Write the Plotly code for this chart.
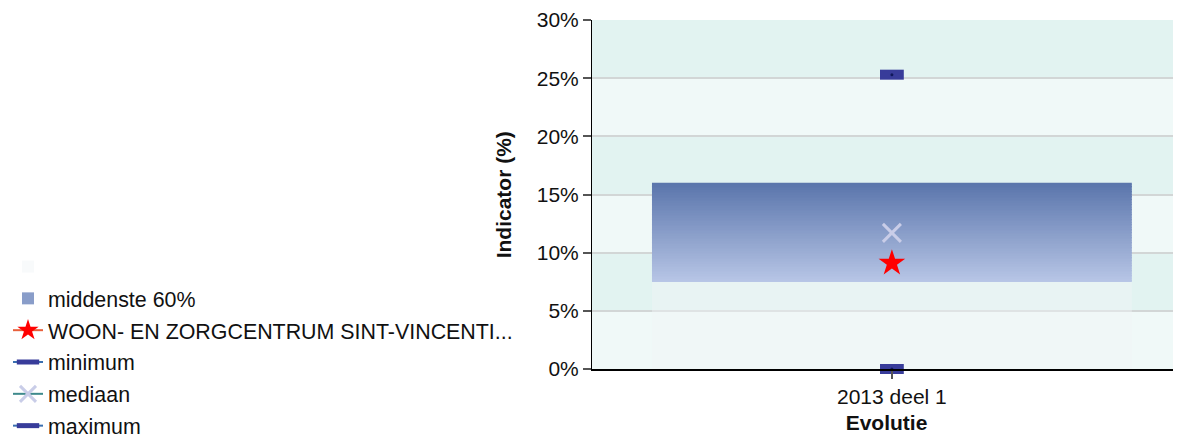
import plotly.graph_objects as go

categories = ["2013 deel 1"]
band_low = [7.5]
band_high = [16.0]
facility = [9.1]
minimum = [0.0]
median = [11.7]
maximum = [25.3]
facility_name = "WOON- EN ZORGCENTRUM SINT-VINCENTI..."
y_ticks = [0, 5, 10, 15, 20, 25, 30]
y_ticktext = ["0%", "5%", "10%", "15%", "20%", "25%", "30%"]
y_title = "Indicator (%)"
x_title = "Evolutie"

FONT = "Liberation Sans, Arial, sans-serif"
top_rgb = (90, 117, 172)
bot_rgb = (184, 198, 230)

fig = go.Figure()

# near-transparent base of the stacked bar
fig.add_trace(go.Bar(x=categories, y=band_low, name=" ", width=0.8,
                     marker=dict(color="rgba(240,244,246,0.45)", line=dict(width=0)),
                     legendgroup="g0", hoverinfo="skip"))

# gradient band drawn as stacked slices
N = 60
for i in range(N):
    t = (i + 0.5) / N
    c = tuple(round(bot_rgb[k] + (top_rgb[k] - bot_rgb[k]) * t) for k in range(3))
    h = [(band_high[j] - band_low[j]) / N for j in range(len(categories))]
    b = [band_low[j] + i * h[j] for j in range(len(categories))]
    hh = [v * 1.03 if i < N - 1 else v for v in h]
    fig.add_trace(go.Bar(x=categories, y=hh, base=b, width=0.8,
                         marker=dict(color="rgb(%d,%d,%d)" % c, line=dict(width=0)),
                         showlegend=False, hoverinfo="skip"))
# legend entry for band
fig.add_trace(go.Bar(x=categories, y=[None], name="middenste 60%", width=0.8,
                     marker=dict(color="rgb(137,157,201)", line=dict(width=0)),
                     legendgroup="g1"))

fig.add_trace(go.Scatter(x=categories, y=facility, name=facility_name, mode="lines+markers",
                         line=dict(color="#e8603c", width=2),
                         marker=dict(symbol="star", size=20, color="#ff0000", line=dict(width=0)),
                         legendgroup="g2", cliponaxis=False))
fig.add_trace(go.Scatter(x=categories, y=minimum, name="minimum", mode="lines+markers",
                         line=dict(color="#3a6fb0", width=2),
                         marker=dict(symbol="line-ew", size=17, color="#383c9a",
                                     line=dict(color="#383c9a", width=10)),
                         legendgroup="g3", cliponaxis=False))
fig.add_trace(go.Scatter(x=categories, y=median, name="mediaan", mode="lines+markers",
                         line=dict(color="#3e8a8c", width=2),
                         marker=dict(symbol="x-thin", size=18, color="#c9cde8",
                                     line=dict(color="#c9cde8", width=3)),
                         legendgroup="g4", cliponaxis=False))
fig.add_trace(go.Scatter(x=categories, y=maximum, name="maximum", mode="lines+markers",
                         line=dict(color="#3a6fb0", width=2),
                         marker=dict(symbol="line-ew", size=17, color="#383c9a",
                                     line=dict(color="#383c9a", width=10)),
                         legendgroup="g5", cliponaxis=False))
# small center dots on min/max
fig.add_trace(go.Scatter(x=categories * 2, y=minimum + maximum, mode="markers",
                         marker=dict(symbol="circle", size=3, color="#10185a"),
                         showlegend=False, hoverinfo="skip", cliponaxis=False))

shapes = []
for k in range(len(y_ticks) - 1):
    shapes.append(dict(type="rect", xref="paper", yref="y", x0=0, x1=1,
                       y0=y_ticks[k], y1=y_ticks[k + 1], layer="below", line=dict(width=0),
                       fillcolor="#f0f9f8" if k % 2 == 0 else "#e2f3f1"))

fig.update_layout(
    width=1173, height=426,
    barmode="overlay",
    paper_bgcolor="white", plot_bgcolor="white",
    margin=dict(l=584, r=0, t=12, b=65, autoexpand=False),
    font=dict(family=FONT, size=21, color="#111111"),
    shapes=shapes,
    showlegend=True,
    legend=dict(xref="container", yref="container", x=0.0, xanchor="left",
                y=0.441, yanchor="top", traceorder="grouped", tracegroupgap=1,
                font=dict(size=21.4, color="#111111"), bgcolor="rgba(0,0,0,0)"),
    annotations=[dict(text="<b>" + y_title + "</b>", xref="paper", yref="paper",
                      x=-0.1497, y=0.5, xanchor="center", yanchor="middle",
                      textangle=-90, showarrow=False,
                      font=dict(size=21, color="#111111"))],
    xaxis=dict(type="category", range=[-0.5, 0.482], showgrid=False,
               showline=True, linecolor="black", linewidth=1.5,
               ticks="outside", ticklen=8, tickcolor="#555555", tickwidth=1.5,
               tickfont=dict(size=21, color="#111111"),
               title=dict(text="<b>" + x_title + "</b>", font=dict(size=21, color="#111111"), standoff=10)),
    yaxis=dict(range=[0, 30], tickvals=y_ticks, ticktext=y_ticktext,
               showgrid=True, gridcolor="#d2d6d6", gridwidth=1.5,
               showline=True, linecolor="black", linewidth=1,
               ticks="outside", ticklen=8, tickcolor="#555555", tickwidth=1.5,
               tickfont=dict(size=21, color="#111111"), zeroline=False),
)

fig.write_html("out.html")
